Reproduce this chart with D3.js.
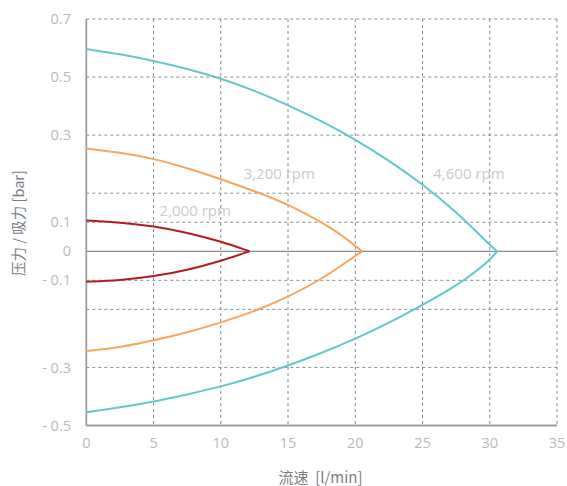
<!DOCTYPE html>
<html><head><meta charset="utf-8">
<script src="https://cdn.jsdelivr.net/npm/d3@7"></script>
<style>
html,body{margin:0;padding:0;background:#fff;}
svg{display:block;font-family:"Open Sans",sans-serif;}
</style></head>
<body><svg id="c" width="567" height="486"></svg>
<script>
// ---- data ----
const xTicks = [0, 5, 10, 15, 20, 25, 30, 35];
const yTicks = [-0.5, -0.3, -0.1, 0, 0.1, 0.3, 0.5, 0.7];
const yTickLabels = ["- 0.5", "- 0.3", "- 0.1", "0", "0.1", "0.3", "0.5", "0.7"];
const seriesNames = ["2,000 rpm", "3,200 rpm", "4,600 rpm"];

const flow2000 = [0, 2.5, 5, 7.5, 10, 12.14];
const press2000 = [0.1042, 0.0997, 0.0866, 0.0646, 0.034, 0];
const suct2000 = [-0.1032, -0.1002, -0.0869, -0.0649, -0.0339, 0];

const flow3200Top = [0, 2.5, 5, 7.5, 10, 12.5, 15, 17.6, 19, 20.5];
const press3200 = [0.2693, 0.2601, 0.2463, 0.2245, 0.1992, 0.1717, 0.1418, 0.0973, 0.056, 0];
const flow3200Bot = [0, 2.5, 5, 7.5, 10, 12.9, 15, 17.38, 20, 20.5];
const suct3200 = [-0.2623, -0.2543, -0.2382, -0.2198, -0.1973, -0.1666, -0.1377, -0.1, -0.0163, 0];

const flow4600Top = [0, 2.5, 5, 7.5, 10, 12.5, 15, 17.5, 20, 22.5, 25, 27.5, 30, 30.55];
const press4600 = [0.5965, 0.5793, 0.5562, 0.5287, 0.4956, 0.4536, 0.4036, 0.3485, 0.2903, 0.2417, 0.1877, 0.1246, 0.0216, 0];
const flow4600Bot = [0, 2.5, 5, 7.5, 10, 12.5, 15, 17.5, 20, 22.5, 25, 27.5, 29, 30, 30.55];
const suct4600 = [-0.4545, -0.438, -0.418, -0.3933, -0.3664, -0.333, -0.2961, -0.2669, -0.2347, -0.198, -0.1567, -0.1131, -0.068, -0.0301, 0];

const colors = ["#b51c22", "#f9a55c", "#62c8cc"];

// ---- layout ----
const L = 86.3, R = 557, T = 19, B = 425.5;
const yUnits = [0, 2, 5, 6, 7, 10, 12, 14];
const gridUnits = [2, 4, 5, 7, 8, 10, 12, 14];
const svg = d3.select("#c");
const x = d3.scaleLinear().domain([0, 35]).range([L, R]);
const unitScale = d3.scaleLinear().domain(yTicks).range(yUnits);
const unitPx = d3.scaleLinear().domain([0, 14]).range([B, T]);
const y = v => unitPx(unitScale(v));

const g = svg.append("g");
// grid horizontal
g.selectAll("line.hg").data(gridUnits).join("line")
  .attr("x1", L).attr("x2", R)
  .attr("y1", d => unitPx(d)).attr("y2", d => unitPx(d))
  .attr("stroke", "#8a8d91").attr("stroke-width", 1).attr("stroke-dasharray", "3,3");
// grid vertical
g.selectAll("line.vg").data(xTicks.slice(1)).join("line")
  .attr("x1", d => x(d)).attr("x2", d => x(d))
  .attr("y1", T).attr("y2", B)
  .attr("stroke", "#8a8d91").attr("stroke-width", 1).attr("stroke-dasharray", "3,3");
// zero line
g.append("line").attr("x1", L).attr("x2", R).attr("y1", y(0)).attr("y2", y(0))
  .attr("stroke", "#8a8d91").attr("stroke-width", 1.3);
// axes lines
g.append("line").attr("x1", L).attr("x2", L).attr("y1", T).attr("y2", B)
  .attr("stroke", "#9a9ea3").attr("stroke-width", 1.8);
g.append("line").attr("x1", L).attr("x2", R).attr("y1", B).attr("y2", B)
  .attr("stroke", "#9a9ea3").attr("stroke-width", 1.8);

// tick labels
g.selectAll("text.yt").data(yTicks).join("text")
  .attr("x", 71).attr("y", d => y(d)).attr("dy", "0.35em")
  .attr("text-anchor", "end").attr("font-size", 14.5).attr("fill", "#b7bbbf")
  .text((d, i) => yTickLabels[i]);
g.selectAll("text.xt").data(xTicks).join("text")
  .attr("x", d => x(d)).attr("y", 443).attr("dy", "0.35em")
  .attr("text-anchor", "middle").attr("font-size", 14.5).attr("fill", "#b7bbbf")
  .text(d => d);

// axis titles
svg.append("text").attr("x", 320.5).attr("y", 478).attr("dy", "0.35em")
  .attr("text-anchor", "middle").attr("font-size", 15).attr("fill", "#7a7e83")
  .attr("font-family", "'Noto Sans CJK SC','Open Sans',sans-serif")
  .attr("xml:space", "preserve")
  .text("流速  [l/min]");
svg.append("text").attr("transform", "translate(19,223) rotate(-90)")
  .attr("dy", "0.35em").attr("text-anchor", "middle").attr("font-size", 14.5).attr("fill", "#7a7e83")
  .attr("font-family", "'Noto Sans CJK SC','Open Sans',sans-serif")
  .text("压力 / 吸力 [bar]");

// curves
const line = d3.line().x(d => x(d[0])).y(d => y(d[1])).curve(d3.curveBasis);
const curves = [
  [flow2000, press2000, 0], [flow2000, suct2000, 0],
  [flow3200Top, press3200, 1], [flow3200Bot, suct3200, 1],
  [flow4600Top, press4600, 2], [flow4600Bot, suct4600, 2]
];
curves.forEach(([fx, fy, ci]) => {
  svg.append("path").datum(fx.map((v, i) => [v, fy[i]]))
    .attr("d", line).attr("fill", "none").attr("stroke", colors[ci]).attr("stroke-width", 2);
});

// series labels
const labelPos = [[8.1, 0.127], [14.35, 0.212], [28.45, 0.212]];
seriesNames.forEach((n, i) => {
  svg.append("text").attr("x", x(labelPos[i][0])).attr("y", y(labelPos[i][1])).attr("dy", "0.35em")
    .attr("text-anchor", "middle").attr("font-size", 15).attr("fill", "#c9cbce").text(n);
});
</script></body></html>
